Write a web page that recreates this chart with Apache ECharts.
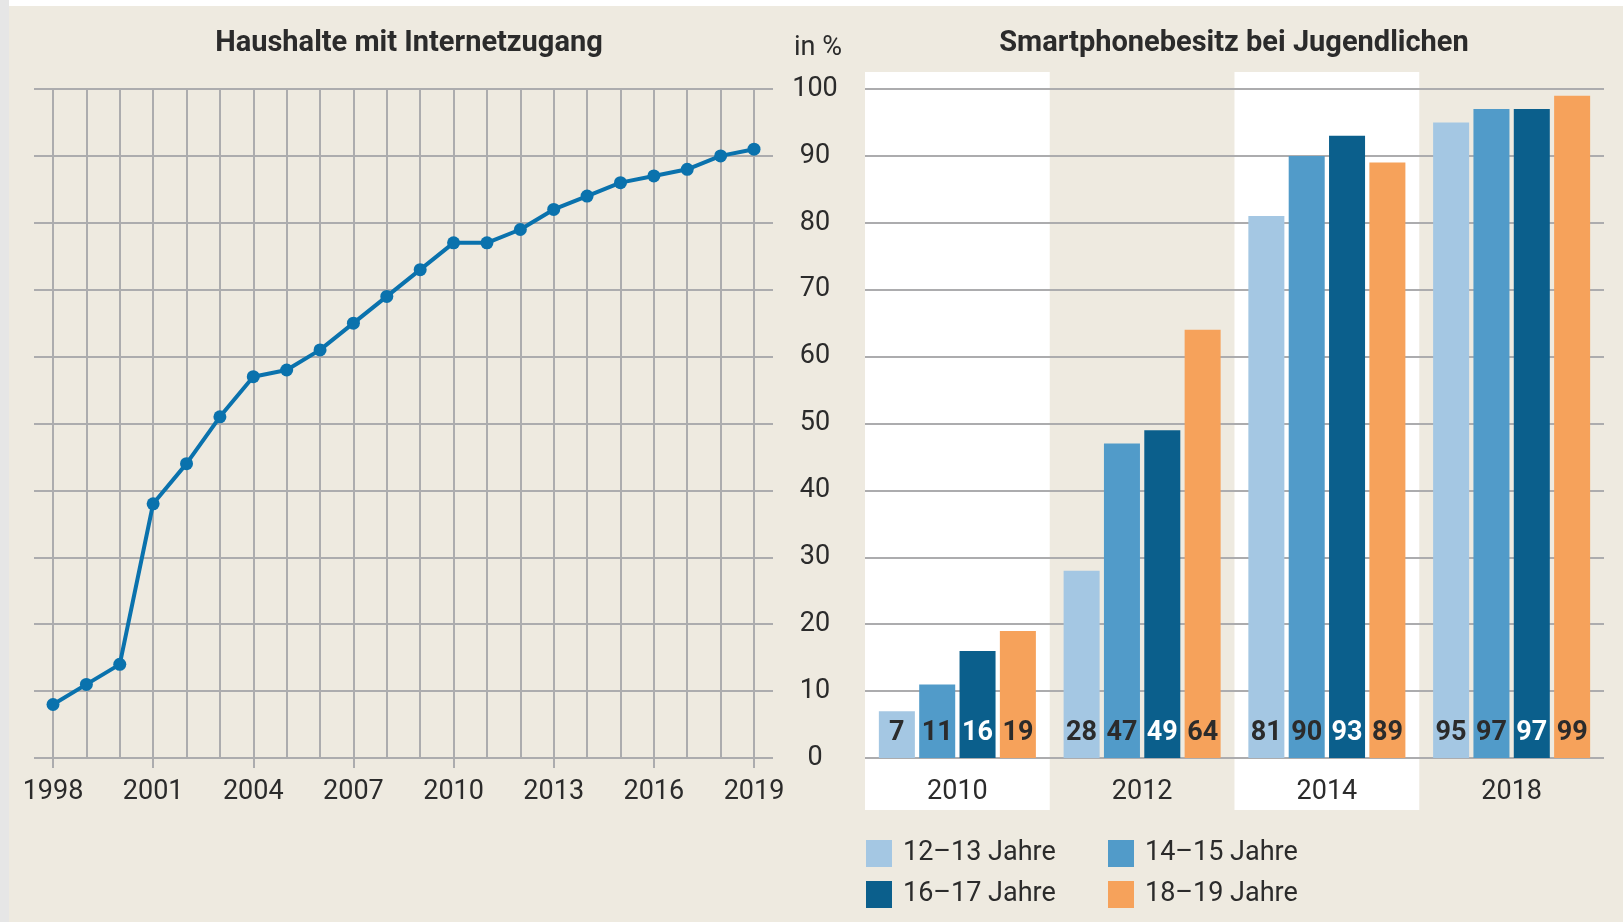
<!DOCTYPE html>
<html>
<head>
<meta charset="utf-8">
<script src="https://cdn.jsdelivr.net/npm/echarts@6/dist/echarts.min.js"></script>
<style>
  html, body { margin: 0; padding: 0; background: #fff; }
  #chart { width: 1623px; height: 922px; }
</style>
</head>
<body>
<div id="chart"></div>
<script>
// Haushalte mit Internetzugang, in %
var years = ['1998', '1999', '2000', '2001', '2002', '2003', '2004', '2005', '2006', '2007', '2008',
  '2009', '2010', '2011', '2012', '2013', '2014', '2015', '2016', '2017', '2018', '2019'];
var households = [8, 11, 14, 38, 44, 51, 57, 58, 61, 65, 69, 73, 77, 77, 79, 82, 84, 86, 87, 88, 90, 91];

// Smartphonebesitz bei Jugendlichen, in %
var surveyYears = ['2010', '2012', '2014', '2018'];
var ageGroups = ['12–13 Jahre', '14–15 Jahre', '16–17 Jahre', '18–19 Jahre'];
var age12to13 = [7, 28, 81, 95];
var age14to15 = [11, 47, 90, 97];
var age16to17 = [16, 49, 93, 97];
var age18to19 = [19, 64, 89, 99];

var font = 'Roboto';
var textColor = '#2b2b2b';
var gridColor = '#acacae';
var beige = '#eeeae0';
var barColors = ['#a4c7e3', '#519bc9', '#0b5f8c', '#f6a25b'];

var chart = echarts.init(document.getElementById('chart'));

function barSeries(name, values, idx) {
  return {
    name: name,
    type: 'bar',
    xAxisIndex: 3,
    yAxisIndex: 3,
    data: values,
    barGap: '12%',
    barCategoryGap: '15%',
    itemStyle: { color: barColors[idx] },
    label: {
      show: true,
      position: 'insideBottom',
      distance: 11,
      fontFamily: font,
      fontWeight: 'bold',
      fontSize: 27,
      color: idx == 2 ? '#ffffff' : textColor
    }
  };
}

function legendAt(name, left, top) {
  return {
    data: [name],
    left: left,
    top: top,
    padding: 0,
    icon: 'rect',
    itemWidth: 26,
    itemHeight: 27,
    selectedMode: false,
    textStyle: { fontFamily: font, fontSize: 27, color: textColor, padding: [0, 0, 0, 6] }
  };
}

var option = {
  backgroundColor: beige,
  animation: false,
  graphic: [
    { type: 'rect', shape: { x: 0, y: 0, width: 1623, height: 6 }, style: { fill: '#ffffff' } },
    { type: 'rect', shape: { x: 0, y: 0, width: 9, height: 922 }, style: { fill: '#e6e6e6' } },
    { type: 'text', x: 409, y: 44, style: { text: 'Haushalte mit Internetzugang', font: 'bold 29px Roboto',
      fill: textColor, align: 'center', verticalAlign: 'middle' } },
    { type: 'text', x: 1234, y: 44, style: { text: 'Smartphonebesitz bei Jugendlichen', font: 'bold 29px Roboto',
      fill: textColor, align: 'center', verticalAlign: 'middle' } },
    { type: 'text', x: 818, y: 48, style: { text: 'in %', font: '27px Roboto',
      fill: textColor, align: 'center', verticalAlign: 'middle' } }
  ],
  grid: [
    { left: 34, top: 89, width: 739, height: 669 },   // horizontal lines, left
    { left: 53, top: 89, width: 701, height: 669 },   // line series
    { left: 865, top: 72, width: 739, height: 738 },  // white bands
    { left: 865, top: 89, width: 739, height: 669 }   // bars
  ],
  xAxis: [
    { gridIndex: 0, type: 'value', show: false },
    {
      gridIndex: 1, type: 'category', data: years, boundaryGap: false,
      axisLine: { show: false },
      axisTick: { show: true, interval: 2, length: 10, lineStyle: { color: gridColor, width: 2 } },
      axisLabel: { interval: 2, margin: 21, fontFamily: font, fontSize: 27, color: textColor },
      splitLine: { show: true, interval: 0, lineStyle: { color: gridColor, width: 2 } }
    },
    {
      gridIndex: 2, type: 'category', data: surveyYears, z: 0,
      axisLine: { show: false }, axisTick: { show: false }, axisLabel: { show: false },
      splitArea: { show: true, areaStyle: { color: ['#ffffff', 'rgba(0,0,0,0)'] } }
    },
    {
      gridIndex: 3, type: 'category', data: surveyYears, z: 2,
      axisLine: { show: false }, axisTick: { show: false },
      axisLabel: { margin: 21, fontFamily: font, fontSize: 27, color: textColor }
    }
  ],
  yAxis: [
    {
      gridIndex: 0, type: 'value', min: 0, max: 100, interval: 10,
      axisLabel: { show: false }, axisLine: { show: false }, axisTick: { show: false },
      splitLine: { lineStyle: { color: gridColor, width: 2 } }
    },
    { gridIndex: 1, type: 'value', min: 0, max: 100, show: false },
    { gridIndex: 2, type: 'value', min: 0, max: 1, show: false },
    {
      gridIndex: 3, type: 'value', min: 0, max: 100, interval: 10, z: 2,
      axisLine: { show: false }, axisTick: { show: false },
      axisLabel: { margin: 50, align: 'center', fontFamily: font, fontSize: 27, color: textColor },
      splitLine: { lineStyle: { color: gridColor, width: 2 } }
    }
  ],
  legend: [
    legendAt(ageGroups[0], 866, 840),
    legendAt(ageGroups[1], 1108, 840),
    legendAt(ageGroups[2], 866, 881),
    legendAt(ageGroups[3], 1108, 881)
  ],
  series: [
    {
      name: 'Haushalte mit Internetzugang',
      type: 'line',
      xAxisIndex: 1,
      yAxisIndex: 1,
      data: households,
      symbol: 'circle',
      symbolSize: 13,
      lineStyle: { color: '#0a72ad', width: 4 },
      itemStyle: { color: '#0a72ad' }
    },
    barSeries(ageGroups[0], age12to13, 0),
    barSeries(ageGroups[1], age14to15, 1),
    barSeries(ageGroups[2], age16to17, 2),
    barSeries(ageGroups[3], age18to19, 3)
  ]
};

chart.setOption(option);
</script>
</body>
</html>
